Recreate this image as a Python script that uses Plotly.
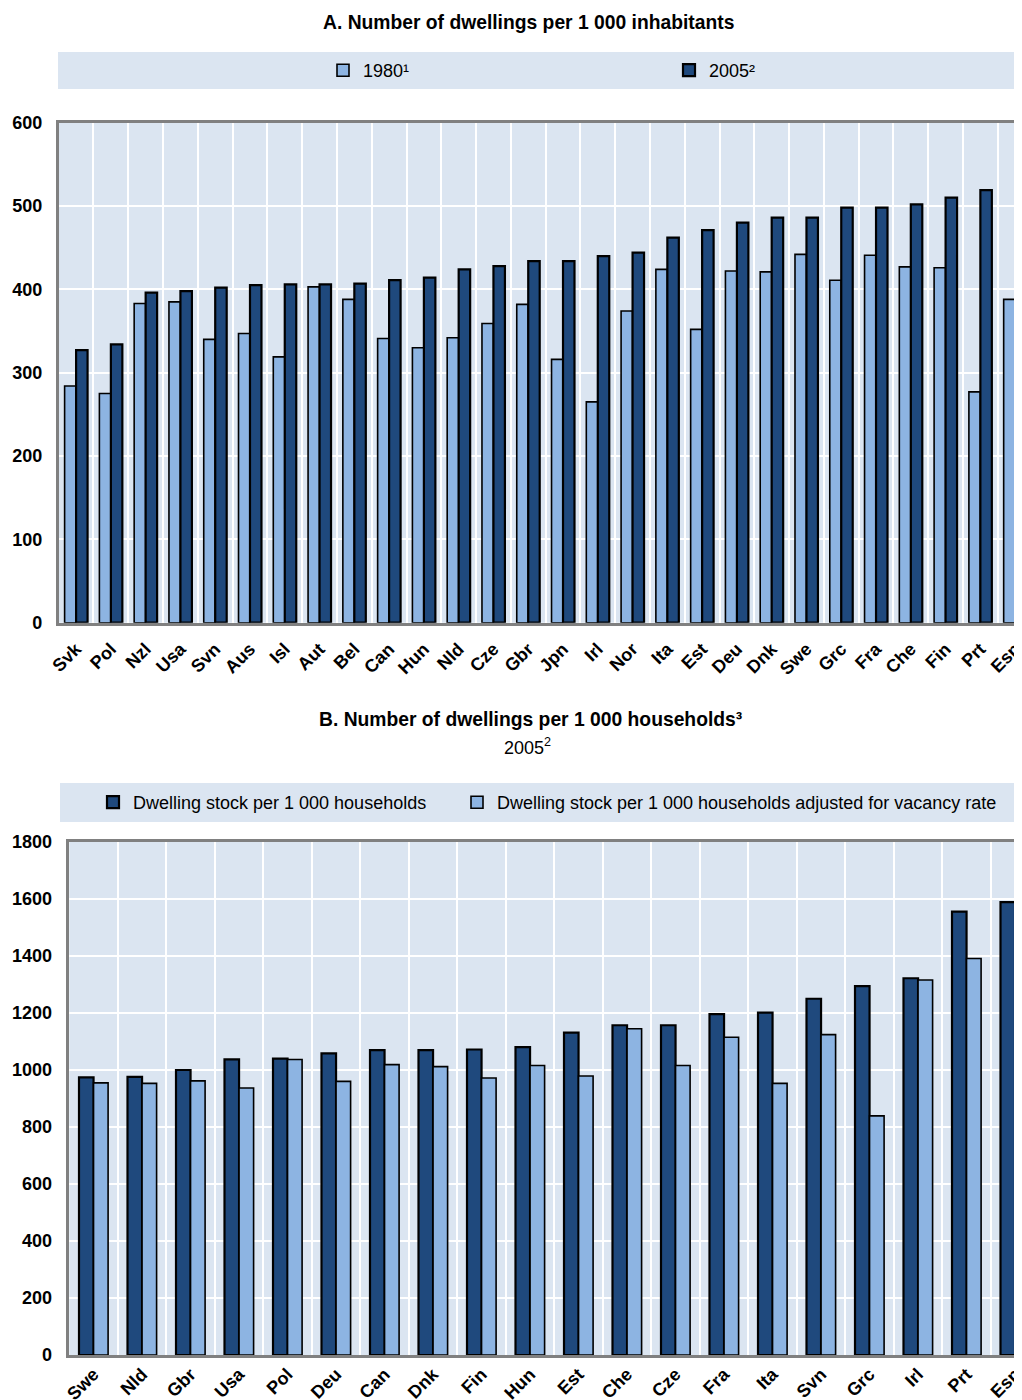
import plotly.graph_objects as go

# ---------------- Data ----------------
countries_a = ["Svk", "Pol", "Nzl", "Usa", "Svn", "Aus", "Isl", "Aut", "Bel", "Can",
               "Hun", "Nld", "Cze", "Gbr", "Jpn", "Irl", "Nor", "Ita", "Est", "Deu",
               "Dnk", "Swe", "Grc", "Fra", "Che", "Fin", "Prt", "Esp"]
dw_1980 = [284, 275, 383, 385, 340, 347, 319, 403, 388, 341,
           330, 342, 359, 382, 316, 265, 374, 424, 352, 422,
           421, 442, 411, 441, 427, 426, 277, 388]
dw_2005 = [327, 334, 396, 398, 402, 405, 406, 406, 407, 411,
           414, 424, 428, 434, 434, 440, 444, 462, 471, 480,
           486, 486, 498, 498, 502, 510, 519, 548]

countries_b = ["Swe", "Nld", "Gbr", "Usa", "Pol", "Deu", "Can", "Dnk", "Fin", "Hun",
               "Est", "Che", "Cze", "Fra", "Ita", "Svn", "Grc", "Irl", "Prt", "Esp"]
stock_hh = [974, 976, 1000, 1037, 1040, 1058, 1070, 1070, 1072, 1080,
            1131, 1157, 1157, 1196, 1201, 1250, 1294, 1322, 1556, 1589]
stock_hh_adj = [955, 953, 962, 937, 1037, 960, 1019, 1012, 972, 1016,
                979, 1145, 1016, 1115, 953, 1124, 839, 1316, 1391, 1241]

yticks_a = [0, 100, 200, 300, 400, 500, 600]
yticks_b = [0, 200, 400, 600, 800, 1000, 1200, 1400, 1600, 1800]

# ---------------- Style ----------------
OFF = 8                      # page body margin of the html page
W, H = 1022 - OFF, 1400 - OFF
DARK = "#1F497D"
LIGHT = "#8DB4E2"
BG = "#DBE5F1"
AXIS = "#808080"
FONT = "Liberation Sans, Arial, sans-serif"

def px_x(p):
    return (p - OFF) / W

def px_y(p):
    return 1 - (p - OFF) / H

fig = go.Figure()

# Panel A
fig.add_trace(go.Bar(x=countries_a, y=dw_1980, name="1980¹", marker=dict(color=LIGHT, line=dict(color="black", width=1.6)),
                     width=0.33, offset=-0.33, xaxis="x", yaxis="y", legend="legend", legendwidth=301))
fig.add_trace(go.Bar(x=countries_a, y=dw_2005, name="2005²", marker=dict(color=DARK, line=dict(color="black", width=2.2)),
                     width=0.33, offset=0.0, xaxis="x", yaxis="y", legend="legend", legendwidth=60))
# Panel B
fig.add_trace(go.Bar(x=countries_b, y=stock_hh, name="Dwelling stock per 1 000 households",
                     marker=dict(color=DARK, line=dict(color="black", width=2.2)),
                     width=0.30, offset=-0.30, xaxis="x2", yaxis="y2", legend="legend2", legendwidth=319))
fig.add_trace(go.Bar(x=countries_b, y=stock_hh_adj, name="Dwelling stock per 1 000 households adjusted for vacancy rate",
                     marker=dict(color=LIGHT, line=dict(color="black", width=1.6)),
                     width=0.30, offset=0.0, xaxis="x2", yaxis="y2", legend="legend2", legendwidth=520))

tickfont = dict(family=FONT, size=18, color="black", weight="bold")

common_x = dict(type="category", tickson="boundaries", ticks="", showgrid=True, gridcolor="white", gridwidth=2,
                showline=True, linecolor=AXIS, linewidth=2.5, mirror=True, tickangle=-45, automargin=False,
                tickfont=tickfont, fixedrange=True, zeroline=False)
common_y = dict(showgrid=True, gridcolor="white", gridwidth=2, showline=True, linecolor=AXIS, linewidth=2.5,
                ticks="", tickfont=tickfont, zeroline=False, fixedrange=True, automargin=False)

fig.update_layout(
    template="none",
    width=W, height=H,
    margin=dict(l=0, r=0, t=0, b=0, pad=0),
    paper_bgcolor="white",
    plot_bgcolor=BG,
    barmode="group",
    font=dict(family=FONT, color="black"),
    xaxis=dict(common_x, domain=[px_x(58.7), 1], anchor="y", ticklabelstandoff=6,
               range=[-0.5, -0.5 + (1022 - 58.7) / 34.78]),
    yaxis=dict(common_y, domain=[px_y(622.7), px_y(122.7)], anchor="x", range=[0, 600], tickvals=yticks_a,
               ticklabelstandoff=10),
    xaxis2=dict(common_x, domain=[px_x(69.3), 1], anchor="y2", ticklabelstandoff=-1,
                range=[-0.5, -0.5 + (1022 - 69.3) / 48.5]),
    yaxis2=dict(common_y, domain=[px_y(1355), px_y(842)], anchor="x2", range=[0, 1800], tickvals=yticks_b,
                ticklabelstandoff=11),
    legend=dict(orientation="h", x=px_x(323), xanchor="left", y=px_y(70.5), yanchor="middle",
                bgcolor="rgba(0,0,0,0)", font=dict(family=FONT, size=18, color="black"),
                traceorder="normal", borderwidth=0),
    legend2=dict(orientation="h", x=px_x(93), xanchor="left", y=px_y(802.5), yanchor="middle",
                 bgcolor="rgba(0,0,0,0)", font=dict(family=FONT, size=18, color="black"),
                 traceorder="normal", borderwidth=0),
    shapes=[
        dict(type="rect", xref="paper", yref="paper", x0=px_x(58), x1=1, y0=px_y(89), y1=px_y(52),
             fillcolor=BG, line=dict(width=0), layer="below"),
        dict(type="rect", xref="paper", yref="paper", x0=px_x(60), x1=1, y0=px_y(822), y1=px_y(783),
             fillcolor=BG, line=dict(width=0), layer="below"),
    ],
    annotations=[
        dict(text="<b>A. Number of dwellings per 1 000 inhabitants</b>", xref="paper", yref="paper",
             x=px_x(528), y=px_y(22), xanchor="center", yanchor="middle", showarrow=False,
             font=dict(family=FONT, size=19.3, color="black")),
        dict(text="<b>B. Number of dwellings per 1 000 households³</b>", xref="paper", yref="paper",
             x=px_x(530), y=px_y(719), xanchor="center", yanchor="middle", showarrow=False,
             font=dict(family=FONT, size=19.3, color="black")),
        dict(text="2005<sup>2</sup>", xref="paper", yref="paper",
             x=px_x(527), y=px_y(746), xanchor="center", yanchor="middle", showarrow=False,
             font=dict(family=FONT, size=18, color="black")),
    ],
)

fig.write_html("out.html")
